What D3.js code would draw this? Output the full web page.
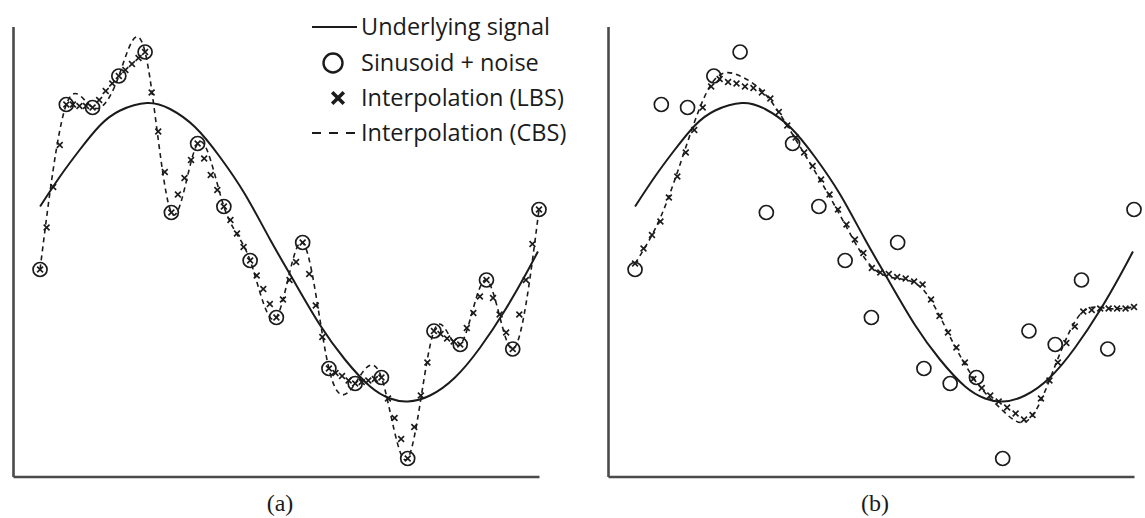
<!DOCTYPE html>
<html><head><meta charset="utf-8">
<script src="https://cdn.jsdelivr.net/npm/d3@7"></script>
<style>body{margin:0;background:#fff}svg{display:block}</style>
</head><body><svg id="c" width="1145" height="518"></svg>
<script>
// ---- data (sample index t, amplitude v) ----
const noisySamples = [-0.12, 0.98, 0.96, 1.17, 1.33, 0.26, 0.72, 0.30, -0.06, -0.44,
                      0.06, -0.78, -0.88, -0.84, -1.38, -0.53, -0.62, -0.19, -0.65, 0.28];
const signalT = [0, 0.76, 1.52, 2.28, 3.05, 4.07, 4.95, 5.90, 6.85, 7.81, 8.76, 9.71,
                 10.66, 11.61, 12.57, 13.33, 14.01, 14.85, 15.80, 16.76, 17.71, 18.47, 18.96];
const signalV = [0.30, 0.50, 0.68, 0.84, 0.94, 0.99, 0.95, 0.83, 0.63, 0.38, 0.08, -0.21,
                 -0.49, -0.72, -0.90, -0.98, -1.00, -0.96, -0.84, -0.64, -0.39, -0.16, 0.00];
// panel (a) LBS markers, 4 per sample interval
const lbsA = [-0.12, 0.16, 0.43, 0.71, 0.98, 0.98, 0.97, 0.97, 0.96, 1.01, 1.07, 1.12, 1.17,
              1.21, 1.25, 1.29, 1.33, 1.06, 0.80, 0.53, 0.26, 0.38, 0.49, 0.61, 0.72,
              0.62, 0.51, 0.41, 0.30, 0.21, 0.12, 0.03, -0.06, -0.16, -0.25, -0.35, -0.44,
              -0.32, -0.19, -0.07, 0.06, -0.15, -0.36, -0.57, -0.78, -0.81, -0.83, -0.86, -0.88,
              -0.87, -0.86, -0.85, -0.84, -0.98, -1.11, -1.25, -1.38, -1.17, -0.96, -0.74, -0.53,
              -0.55, -0.58, -0.60, -0.62, -0.51, -0.41, -0.30, -0.19, -0.31, -0.42, -0.54, -0.65,
              -0.42, -0.19, 0.05, 0.28];
// panel (b) LBS markers, 60 evenly spaced over the record
const lbsB = [-0.08, 0.02, 0.11, 0.20, 0.36, 0.50, 0.66, 0.81, 0.96, 1.10,
              1.15, 1.13, 1.12, 1.10, 1.09, 1.06, 1.02, 0.93, 0.84, 0.76,
              0.66, 0.57, 0.48, 0.38, 0.28, 0.18, 0.08, -0.01, -0.11, -0.14,
              -0.15, -0.17, -0.18, -0.20, -0.22, -0.32, -0.43, -0.54, -0.64, -0.74,
              -0.85, -0.91, -0.96, -1.00, -1.04, -1.08, -1.12, -1.09, -0.98, -0.86,
              -0.74, -0.61, -0.50, -0.40, -0.39, -0.38, -0.38, -0.38, -0.38, -0.37];
// panel (b) CBS curve at each sample
const cbsB = [-0.08, 0.24, 0.73, 1.14, 1.17, 1.04, 0.78, 0.49, 0.18, -0.10,
              -0.18, -0.26, -0.57, -0.87, -1.06, -1.12, -0.76, -0.41, -0.38, -0.37];
const panelLabels = ["(a)", "(b)"];
const legendLabels = ["Underlying signal", "Sinusoid + noise", "Interpolation (LBS)", "Interpolation (CBS)"];

const svg = d3.select("#c");
const ink = "#1b1b1b";
const y = d3.scaleLinear().domain([-1.5, 1.5]).range([476.5, 26.5]);
const panels = [
  {x0: 13, x1: 539, label: panelLabels[0],
   lbs: lbsA.map((v, i) => [i / 4, v]),
   cbs: noisySamples.map((v, i) => [i, v])},
  {x0: 608, x1: 1134, label: panelLabels[1],
   lbs: lbsB.map((v, i) => [i * 19 / (lbsB.length - 1), v]),
   cbs: cbsB.map((v, i) => [i, v])}
];
const signal = signalT.map((t, i) => [t, signalV[i]]);
const samples = noisySamples.map((v, i) => [i, v]);
const xSym = d3.symbol().type(d3.symbolX).size(24);

panels.forEach(p => {
  const x = d3.scaleLinear().domain([-1.03, 19]).range([p.x0, p.x1]);
  const g = svg.append("g");
  const line = d3.line().x(d => x(d[0])).y(d => y(d[1])).curve(d3.curveNatural);

  g.append("path").attr("d", line(signal)).attr("fill", "none")
    .attr("stroke", ink).attr("stroke-width", 2);
  g.append("path").attr("d", line(p.cbs)).attr("fill", "none")
    .attr("stroke", ink).attr("stroke-width", 1.6).attr("stroke-dasharray", "5,4");
  g.selectAll("circle.s").data(samples).join("circle").attr("class", "s")
    .attr("cx", d => x(d[0])).attr("cy", d => y(d[1])).attr("r", 7)
    .attr("fill", "none").attr("stroke", ink).attr("stroke-width", 1.7);
  g.selectAll("path.m").data(p.lbs).join("path").attr("class", "m")
    .attr("transform", d => `translate(${x(d[0])},${y(d[1])})`)
    .attr("d", xSym).attr("fill", "none").attr("stroke", ink).attr("stroke-width", 1.6);

  const ax = g.append("g").attr("transform", `translate(${p.x0},0)`)
    .call(d3.axisLeft(y).ticks(0).tickSizeOuter(0));
  const bx = g.append("g").attr("transform", `translate(0,${y.range()[0]})`)
    .call(d3.axisBottom(x).ticks(0).tickSizeOuter(0));
  [ax, bx].forEach(a => a.select(".domain").attr("stroke", "#4a4a4a").attr("stroke-width", 2.6));

  g.append("text").attr("x", (p.x0 + p.x1) / 2 + 4).attr("y", 511)
    .attr("text-anchor", "middle").attr("font-family", "Liberation Serif, Times New Roman, serif")
    .attr("font-size", 24).attr("fill", ink).text(p.label);
});

// legend
const lg = svg.append("g").attr("font-family", "Open Sans, sans-serif").attr("font-size", 23.5).attr("fill", ink);
const rows = [27, 63, 98, 133];
lg.append("line").attr("x1", 312).attr("x2", 357).attr("y1", rows[0]).attr("y2", rows[0])
  .attr("stroke", ink).attr("stroke-width", 2);
lg.append("circle").attr("cx", 333).attr("cy", rows[1]).attr("r", 9.5)
  .attr("fill", "none").attr("stroke", ink).attr("stroke-width", 2.4);
lg.append("path").attr("transform", `translate(338,${rows[2]})`)
  .attr("d", d3.symbol().type(d3.symbolX).size(90)).attr("fill", "none")
  .attr("stroke", ink).attr("stroke-width", 3.6);
lg.append("line").attr("x1", 312).attr("x2", 357).attr("y1", rows[3]).attr("y2", rows[3])
  .attr("stroke", ink).attr("stroke-width", 2).attr("stroke-dasharray", "9,8");
legendLabels.forEach((t, i) => {
  lg.append("text").attr("x", 361).attr("y", rows[i]).attr("dy", "0.35em").text(t);
});
</script></body></html>
